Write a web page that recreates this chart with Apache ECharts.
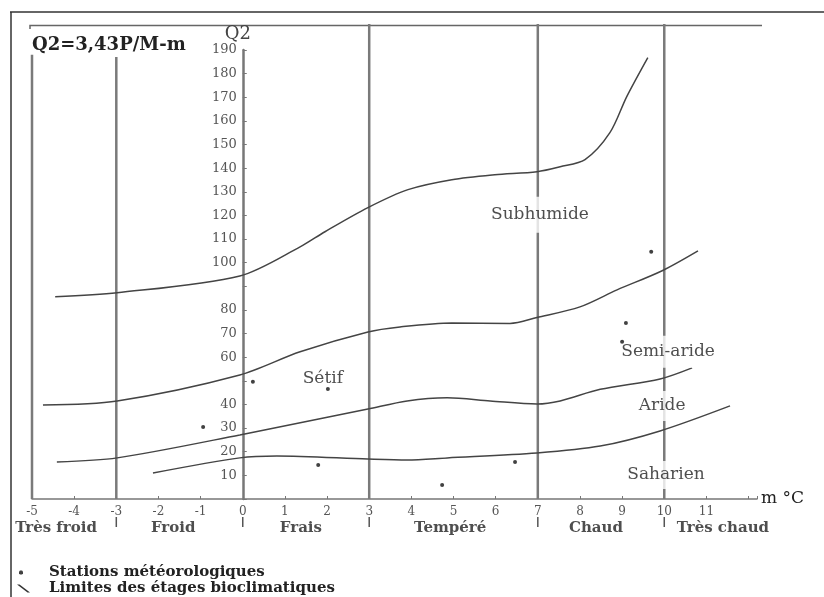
<!DOCTYPE html>
<html><head><meta charset="utf-8">
<script src="https://cdn.jsdelivr.net/npm/echarts@6/dist/echarts.min.js"></script>
<style>html,body{margin:0;padding:0;background:#fff}#c{width:824px;height:597px}</style>
</head><body><div id="c"></div>
<script>
// ---- data (m °C, Q2) ----
const humideLimit = [[-4.45,85.6],[-2.98,87.3],[-0.07,94.4],[1.36,106.7],[1.95,113.1],[2.97,123.3],[3.92,130.9],[4.96,135.1],[5.98,137.2],[6.98,138.5],[7.53,140.6],[8.12,143.6],[8.71,155],[9.11,170.3],[9.61,186.8]];
const subhumideLimit = [[-4.74,39.8],[-2.98,41.5],[-0.07,52.5],[1.36,62.3],[2.97,70.7],[3.73,72.8],[4.96,74.5],[6.34,74.3],[6.98,76.8],[8.0,81.3],[8.88,88.5],[9.95,96.6],[10.8,105]];
const semiArideLimit = [[-4.41,15.7],[-2.98,17.4],[-0.07,27.1],[2.97,38.1],[3.9,41.5],[4.85,42.8],[5.87,41.5],[6.98,40.2],[7.53,41.5],[8.48,46.4],[9.9,50.8],[10.66,55.5]];
const arideLimit = [[-2.13,11],[-0.07,17.4],[0.81,18.2],[2.97,16.9],[3.9,16.5],[4.85,17.4],[6.98,19.5],[8.48,22.4],[9.9,28.8],[11.56,39.4]];
const stations = [[-0.94,30.5],[0.24,49.6],[2.02,46.6],[1.79,14.4],[4.73,5.9],[6.46,15.7],[9.69,104.6],[9.09,74.5],[9.0,66.5]];
const zoneBoundaryX = [-5,-3,3,7,10];
const zoneBoundaryTop = [188,187,201,201,201];
const zoneNames = ['Très froid','Froid','Frais','Tempéré','Chaud','Très chaud'];
const zoneCenters = [-4.43,-1.65,1.38,4.92,8.38,11.39];
const regionNames = ['Subhumide','Semi-aride','Aride','Saharien','Sétif'];
const regionPos = [[7.05,120.3],[10.09,62.3],[9.95,39.4],[10.04,10.2],[1.9,50.8]];
const xMin = -5, xMax = 12.2, yMin = 0, yMax = 190;
const zoneRowY = -12.3, sepTop = -7.6, sepBottom = -11.9;

// ---- layout & styles ----
const FONT = 'DejaVu Serif';
const LIMIT = 'Limites des étages bioclimatiques';
const STAT = 'Stations météorologiques';
const GRID = {left:32, right:67, top:50, bottom:98};
const gridWidth = 824 - GRID.left - GRID.right;
const yAxisOffset = -gridWidth * (0 - xMin) / (xMax - xMin); // put the Q2 axis at m = 0
const labelPad = {'Subhumide':[10,2],'Semi-aride':[8,2],'Aride':[7,0],'Saharien':[6,1],'Sétif':[0,0]};
const labelBg = {'Sétif':'transparent'};

function segs(xs, a, b){ const d=[]; xs.forEach((x,i)=>{ d.push([x,a[i]],[x,b[i]],[x,'-']); }); return d; }

const curve = (data) => ({type:'line', name:LIMIT, data, smooth:0.3, symbol:'none', showSymbol:false,
  lineStyle:{color:'#444', width:1.5}, itemStyle:{color:'#444'}, z:3, silent:true});

const chart = echarts.init(document.getElementById('c'));
chart.setOption({
  backgroundColor:'#fff',
  animation:false,
  title:{text:'Q2=3,43P/M-m', left:27, top:31, textStyle:{fontFamily:FONT, fontWeight:'bold', fontSize:18, color:'#222'}},
  legend:{orient:'vertical', left:14, top:565, padding:0, itemWidth:30, itemHeight:10, itemGap:1,
    textStyle:{fontFamily:FONT, fontWeight:'bold', fontSize:15, color:'#222', lineHeight:15},
    data:[
      {name:STAT, icon:'path://M0,0M30,10M6,3L8,3L9,4L9,6L8,7L6,7L5,6L5,4Z', itemStyle:{color:'#111'}},
      {name:LIMIT, icon:'path://M0,0M30,10M3,1L5.5,1L16,9L13.5,9Z', itemStyle:{color:'#333'}}
    ]},
  grid:Object.assign({containLabel:false}, GRID),
  xAxis:{type:'value', min:xMin, max:xMax, interval:1,
    name:'m °C', nameLocation:'end', nameGap:4, nameTextStyle:{fontFamily:FONT, fontSize:17, color:'#222', verticalAlign:'middle'},
    axisLine:{lineStyle:{color:'#777', width:1.5}},
    axisTick:{inside:true, length:3, lineStyle:{color:'#777'}},
    axisLabel:{fontFamily:FONT, fontSize:12, color:'#555', margin:7, formatter:v=> (v<=11 && Number.isInteger(v)) ? String(v) : ''},
    splitLine:{show:false}},
  yAxis:{type:'value', min:yMin, max:yMax, interval:10, position:'left', offset:yAxisOffset,
    name:'Q2', nameLocation:'end', nameGap:5, nameTextStyle:{fontFamily:FONT, fontSize:18, color:'#444', padding:[0,10,0,0]},
    axisLine:{onZero:false, lineStyle:{color:'#777', width:2.5}},
    axisTick:{inside:true, length:4, lineStyle:{color:'#777'}},
    axisLabel:{fontFamily:FONT, fontSize:13, color:'#555', margin:6, formatter:v=> (v===0||v===50||v===90||v%10!==0) ? '' : String(v)},
    splitLine:{show:false}},
  graphic:[
    {type:'line', shape:{x1:10,y1:12,x2:824,y2:12}, style:{stroke:'#333', lineWidth:1.5}, silent:true},
    {type:'line', shape:{x1:11,y1:12,x2:11,y2:597}, style:{stroke:'#333', lineWidth:1.5}, silent:true},
    {type:'polyline', shape:{points:[[30,29],[30,25.5],[762,25.5]]}, style:{stroke:'#666', lineWidth:1.5, fill:null}, silent:true}
  ],
  series:[
    {type:'line', name:'zones', data:segs(zoneBoundaryX, zoneBoundaryX.map(()=>0), zoneBoundaryTop), connectNulls:false,
      symbol:'none', clip:false, lineStyle:{color:'#7a7a7a', width:2.5}, z:2, silent:true},
    {type:'line', name:'sep', data:segs([-3,0,3,7,10], [sepTop,sepTop,sepTop,sepTop,sepTop], [sepBottom,sepBottom,sepBottom,sepBottom,sepBottom]), connectNulls:false,
      symbol:'none', clip:false, lineStyle:{color:'#555', width:1.5}, z:2, silent:true},
    curve(humideLimit), curve(subhumideLimit), curve(semiArideLimit), curve(arideLimit),
    {type:'scatter', name:'regions', z:10, symbolSize:1, itemStyle:{color:'transparent'}, silent:true,
      data: regionNames.map((n,i)=>({name:n, value:regionPos[i],
        label:{padding:labelPad[n], backgroundColor:labelBg[n]||'#fff'}})),
      label:{show:true, position:'inside', formatter:'{b}', fontFamily:FONT, fontSize:17, lineHeight:16, color:'#222'}},
    {type:'scatter', name:'zoneNames', z:10, symbolSize:1, clip:false, itemStyle:{color:'transparent'}, silent:true,
      data: zoneNames.map((n,i)=>({name:n, value:[zoneCenters[i], zoneRowY]})),
      label:{show:true, position:'inside', formatter:'{b}', fontFamily:FONT, fontWeight:'bold', fontSize:15, color:'#222'}},
    {type:'scatter', name:STAT, data:stations, symbolSize:4, itemStyle:{color:'#111'}, z:12, silent:true}
  ]
});
</script></body></html>
